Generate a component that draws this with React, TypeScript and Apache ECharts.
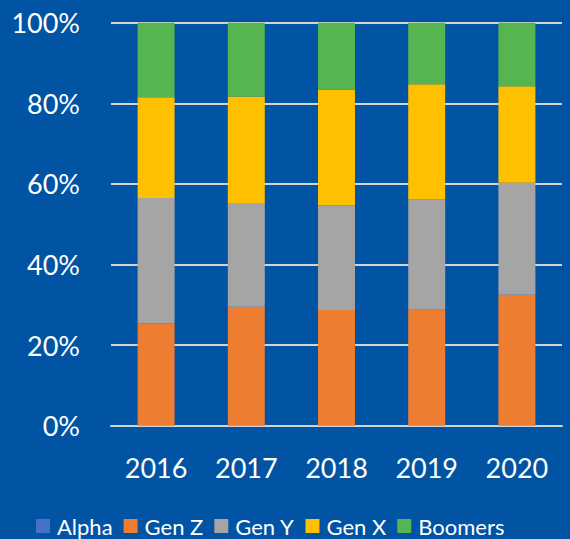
import React, { useEffect, useRef } from "react";
import * as echarts from "echarts";

const years = ["2016", "2017", "2018", "2019", "2020"];
const alpha = [0, 0, 0, 0, 0];
const genZ = [25.4, 29.5, 28.7, 28.8, 32.5];
const genY = [31.1, 25.6, 26.0, 27.3, 27.8];
const genX = [25.0, 26.6, 28.7, 28.6, 23.9];
const boomers = [18.5, 18.3, 16.6, 15.3, 15.8];

const seriesDefs = [
  { name: "Alpha", data: alpha, color: "#4472C4" },
  { name: "Gen Z", data: genZ, color: "#ED7D31" },
  { name: "Gen Y", data: genY, color: "#A5A5A5" },
  { name: "Gen X", data: genX, color: "#FFC000" },
  { name: "Boomers", data: boomers, color: "#55B551" },
];

const FONT = "Lato";

export default function App() {
  const ref = useRef<HTMLDivElement>(null);
  useEffect(() => {
    if (!ref.current) return;
    const chart = echarts.init(ref.current, null, { renderer: "svg" });
    chart.setOption({
      animation: false,
      backgroundColor: "#0054A3",
      grid: { left: 111, right: 8, top: 22.7, bottom: 113.3, containLabel: false },
      legend: {
        bottom: 2,
        left: 36,
        padding: 0,
        itemWidth: 14,
        itemHeight: 14,
        itemGap: 11,
        icon: "rect",
        textStyle: { color: "#FFFFFF", fontSize: 22, fontFamily: FONT, padding: [0, 0, 0, 2] },
        data: seriesDefs.map((s) => s.name),
      },
      xAxis: {
        type: "category",
        data: years,
        axisLine: { show: true, lineStyle: { color: "#D3D3D3", width: 2 } },
        axisTick: { show: false },
        axisLabel: { color: "#FFFFFF", fontSize: 27, fontFamily: FONT, margin: 28 },
      },
      yAxis: {
        type: "value",
        min: 0,
        max: 100,
        interval: 20,
        axisLine: { show: false },
        axisTick: { show: false },
        splitLine: { lineStyle: { color: "#D3D3D3", width: 2 } },
        axisLabel: {
          color: "#FFFFFF",
          fontSize: 27,
          fontFamily: FONT,
          margin: 31,
          formatter: (v: number) => v + "%",
        },
      },
      series: seriesDefs.map((s) => ({
        name: s.name,
        type: "bar",
        stack: "total",
        barWidth: "41%",
        data: s.data,
        itemStyle: { color: s.color },
      })),
    });
    return () => chart.dispose();
  }, []);
  return <div ref={ref} style={{ width: 570, height: 539, position: "absolute", left: 0, top: 0 }} />;
}
